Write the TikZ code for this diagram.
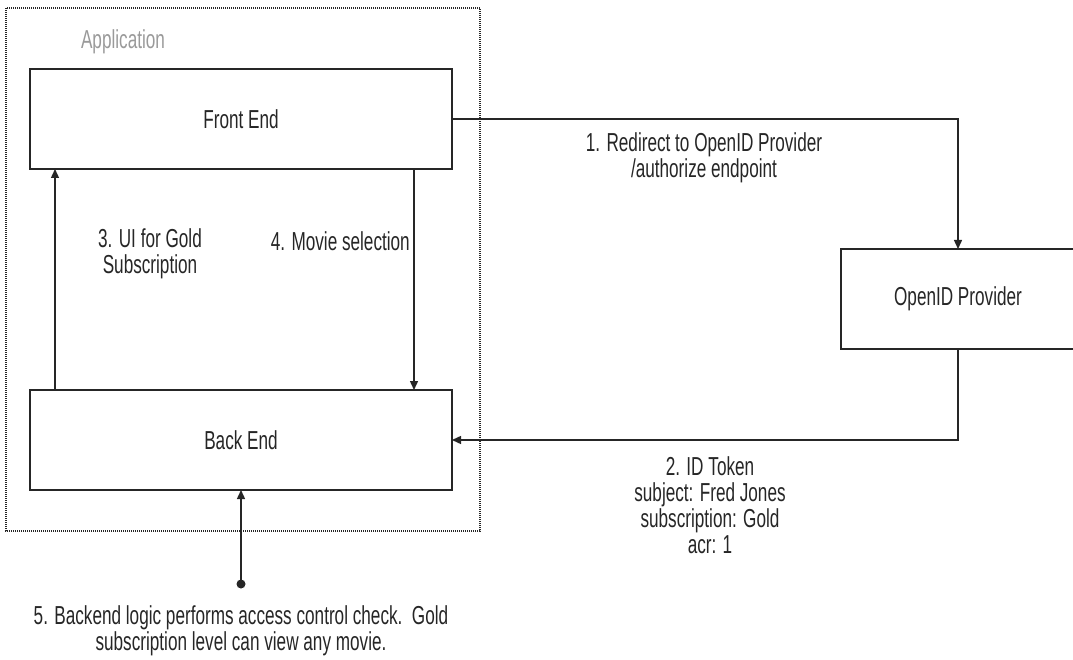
\documentclass[tikz,border=0pt]{standalone}
\usepackage{fontspec}
\setmainfont[FakeStretch=0.66]{Liberation Sans}
\usetikzlibrary{positioning,arrows.meta}
\definecolor{ink}{HTML}{262626}
\definecolor{appgray}{HTML}{9A9A9A}

\begin{document}
\begin{tikzpicture}
[x=1pt,y=-1pt,
 font=\fontsize{26}{26}\selectfont, text=ink,
 box/.style={draw=ink,line width=1.2pt,rectangle,inner sep=0pt,outer sep=0pt,
   minimum width=422pt,minimum height=100pt},
 flow/.style={draw=ink,line width=1.4pt,-{Triangle[length=9pt,width=8pt]}},
 lbl/.style={align=center,inner sep=0pt}]
\useasboundingbox (0,0) rectangle (1073,660);
% application frame
\draw[ink,line width=1.2pt,dash pattern=on 1pt off 1pt] (6,8) rectangle (480,531);
\node[lbl,text=appgray](app) at (123,42){Application};
\node[box](front) at (241,119){Front End};
\node[box, below=221pt of front](back){Back End};
\node[box,minimum width=234pt](op) at (958,299){OpenID Provider};
\coordinate (start) at (241,584);
\draw[flow] (front.east) -| (op.north);
\draw[flow] (op.south) |- (back.east);
\draw[flow] ([xshift=25pt]back.north west) -- ([xshift=25pt]front.south west);
\draw[flow] ([xshift=-38pt]front.south east) -- ([xshift=-38pt]back.north east);
\draw[flow] (start) -- (back.south);
\fill[ink] (start) circle (4.5pt);
\node[lbl](redir) at (704,158){1. Redirect to OpenID Provider\\/authorize endpoint};
\node[lbl](token) at (710,505){2. ID Token\\subject: Fred Jones\\subscription: Gold\\acr: 1};
\node[lbl](ui) at (150,254){3. UI for Gold\\Subscription};
\node[lbl,anchor=east](movie) at (410,241){4. Movie selection};
\node[lbl](check) at (241,631){5. Backend logic performs access control check.\ \ Gold\\subscription level can view any movie.};
\end{tikzpicture}
\end{document}
